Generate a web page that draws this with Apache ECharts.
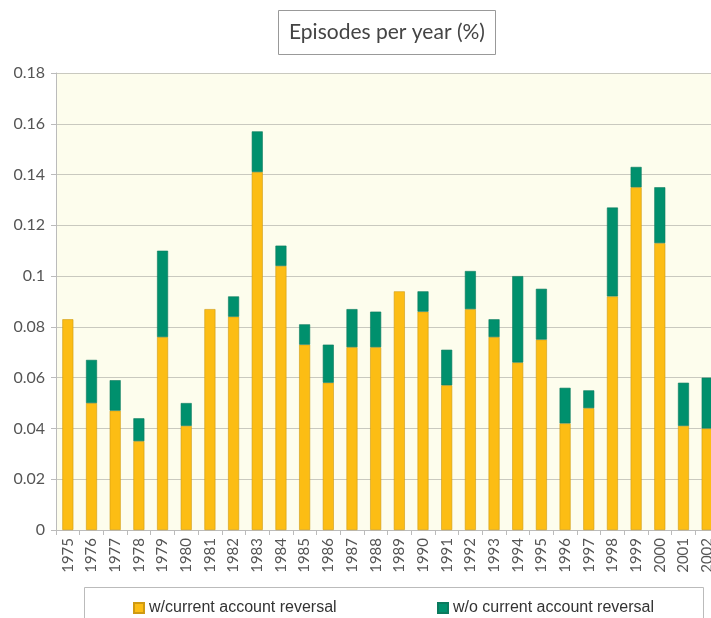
<!DOCTYPE html>
<html>
<head>
<meta charset="utf-8">
<script src="https://cdn.jsdelivr.net/npm/echarts@6/dist/echarts.min.js"></script>
<style>
  html, body { margin: 0; padding: 0; background: #fff; }
</style>
</head>
<body>
<div id="chart" style="width:711px;height:618px;"></div>
<script>
// years on the x axis
var years = ['1975','1976','1977','1978','1979','1980','1981','1982','1983','1984',
             '1985','1986','1987','1988','1989','1990','1991','1992','1993','1994',
             '1995','1996','1997','1998','1999','2000','2001','2002'];
// episodes with current account reversal (lower, yellow part)
var withReversal = [0.083,0.050,0.047,0.035,0.076,0.041,0.087,0.084,0.141,0.104,
                    0.073,0.058,0.072,0.072,0.094,0.086,0.057,0.087,0.076,0.066,
                    0.075,0.042,0.048,0.092,0.135,0.113,0.041,0.040];
// episodes without current account reversal (upper, green part), null = none
var withoutReversal = [null,0.017,0.012,0.009,0.034,0.009,null,0.008,0.016,0.008,
                       0.008,0.015,0.015,0.014,null,0.008,0.014,0.015,0.007,0.034,
                       0.020,0.014,0.007,0.035,0.008,0.022,0.017,0.020];
var yTicks = ['0','0.02','0.04','0.06','0.08','0.1','0.12','0.14','0.16','0.18'];
var seriesNames = ['w/current account reversal', 'w/o current account reversal'];

var myChart = echarts.init(document.getElementById('chart'));
var legendText = { fontFamily: 'Liberation Sans', fontSize: 16, color: '#333' };
var option = {
  animation: false,
  title: {
    text: 'Episodes per year (%)',
    left: 278,
    top: 10,
    padding: [12, 11, 12, 11],
    borderColor: '#999',
    borderWidth: 1,
    backgroundColor: '#fff',
    textStyle: { fontFamily: 'Lato', fontSize: 21, fontWeight: 'normal', color: '#444' }
  },
  graphic: [{
    type: 'rect',
    left: 84, top: 587,
    shape: { width: 619, height: 60 },
    style: { fill: '#fff', stroke: '#bbb', lineWidth: 1 },
    z: -1
  }],
  legend: [
    {
      data: [seriesNames[0]], left: 128, top: 595,
      icon: 'rect', itemWidth: 10, itemHeight: 10,
      textStyle: legendText
    },
    {
      data: [seriesNames[1]], left: 432, top: 595,
      icon: 'rect', itemWidth: 10, itemHeight: 10,
      textStyle: legendText
    }
  ],
  grid: {
    left: 56, top: 73, width: 663, height: 457,
    outerBoundsMode: 'none',
    show: true, backgroundColor: '#FDFDED', borderWidth: 0
  },
  xAxis: {
    type: 'category',
    data: years,
    axisLine: { lineStyle: { color: '#bbb' } },
    axisTick: { show: true, length: 5, lineStyle: { color: '#bbb' } },
    axisLabel: {
      rotate: 90, interval: 0, margin: 8,
      fontFamily: 'Lato', fontSize: 15, color: '#555'
    }
  },
  yAxis: {
    type: 'value',
    min: 0, max: 0.18, interval: 0.02,
    axisLine: { show: true, lineStyle: { color: '#bbb' } },
    axisTick: { show: true, length: 5, lineStyle: { color: '#bbb' } },
    splitLine: { lineStyle: { color: '#c9c9bf' } },
    axisLabel: {
      margin: 11,
      fontFamily: 'Lato', fontSize: 16, color: '#555',
      formatter: function (v) { return yTicks[Math.round(v / 0.02)]; }
    }
  },
  series: [
    {
      name: seriesNames[0], type: 'bar', stack: 'ep', barWidth: 11,
      data: withReversal,
      itemStyle: { color: '#FCBD14', borderColor: '#CF9A12', borderWidth: 0.6 }
    },
    {
      name: seriesNames[1], type: 'bar', stack: 'ep', barWidth: 11,
      data: withoutReversal,
      itemStyle: { color: '#00906D', borderColor: '#0B7A5E', borderWidth: 0.6 }
    }
  ]
};
myChart.setOption(option);
</script>
</body>
</html>
